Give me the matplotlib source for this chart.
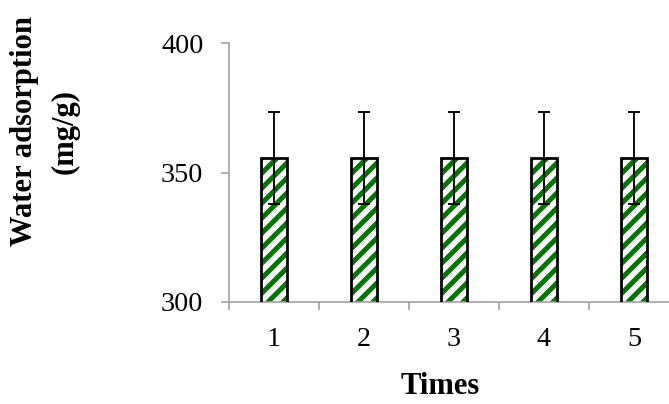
import numpy as np
import matplotlib
matplotlib.use('Agg')
import matplotlib.pyplot as plt

# adsorption after each reuse cycle
times = [1, 2, 3, 4, 5]
adsorption = [355.7, 355.7, 355.7, 355.7, 355.7]
errors = [17.8, 17.8, 17.8, 17.8, 17.8]

DPI = 90
plt.rcParams['font.family'] = ['Liberation Serif', 'DejaVu Serif']
plt.rcParams['hatch.linewidth'] = 4.0

fig = plt.figure(figsize=(669 / DPI, 404 / DPI), dpi=DPI)
ax = fig.add_axes([229 / 669, 102.3 / 404, 450 / 669, 258.4 / 404])

green = '#047404'
grey = '#a0a0a0'

# hatched fill first, then a black outline on top
ax.bar(times, adsorption, width=0.28, color='white', edgecolor=green,
       hatch='//', linewidth=0, zorder=2)
ax.bar(times, adsorption, width=0.28, fill=False, edgecolor='black',
       linewidth=2.2, zorder=3)
ax.errorbar(times, adsorption, yerr=errors, fmt='none', ecolor='black',
            elinewidth=1.5, capsize=5, capthick=1.5, zorder=4)

ax.set_xlim(0.5, 5.5)
ax.set_ylim(300, 400)
ax.set_yticks([300, 350, 400])
ax.set_xticks(np.arange(0.5, 6, 1.0))
ax.set_xticklabels([])
ax.set_xticks(times, minor=True)
ax.set_xticklabels([str(t) for t in times], minor=True)

for side in ['top', 'right']:
    ax.spines[side].set_visible(False)
for side in ['left', 'bottom']:
    ax.spines[side].set_color(grey)
    ax.spines[side].set_linewidth(1.3)

ax.tick_params(axis='y', which='major', direction='out', length=6.5,
               width=1.3, color=grey, labelsize=22.5, pad=14)
ax.tick_params(axis='x', which='major', direction='out', length=6.5,
               width=1.3, color=grey)
ax.tick_params(axis='x', which='minor', length=0, labelsize=22.5, pad=20)

fig.text(25 / 669, 1 - 131 / 404, 'Water adsorption', rotation=90,
         ha='center', va='center', fontsize=24.5, fontweight='bold')
fig.text(65 / 669, 1 - 131 / 404, '(mg/g)', rotation=90,
         ha='center', va='center', fontsize=24.5, fontweight='bold')
fig.text(440 / 669, 1 - 386 / 404, 'Times', ha='center', va='center',
         fontsize=24.5, fontweight='bold')

fig.savefig('out.png', dpi=DPI)
